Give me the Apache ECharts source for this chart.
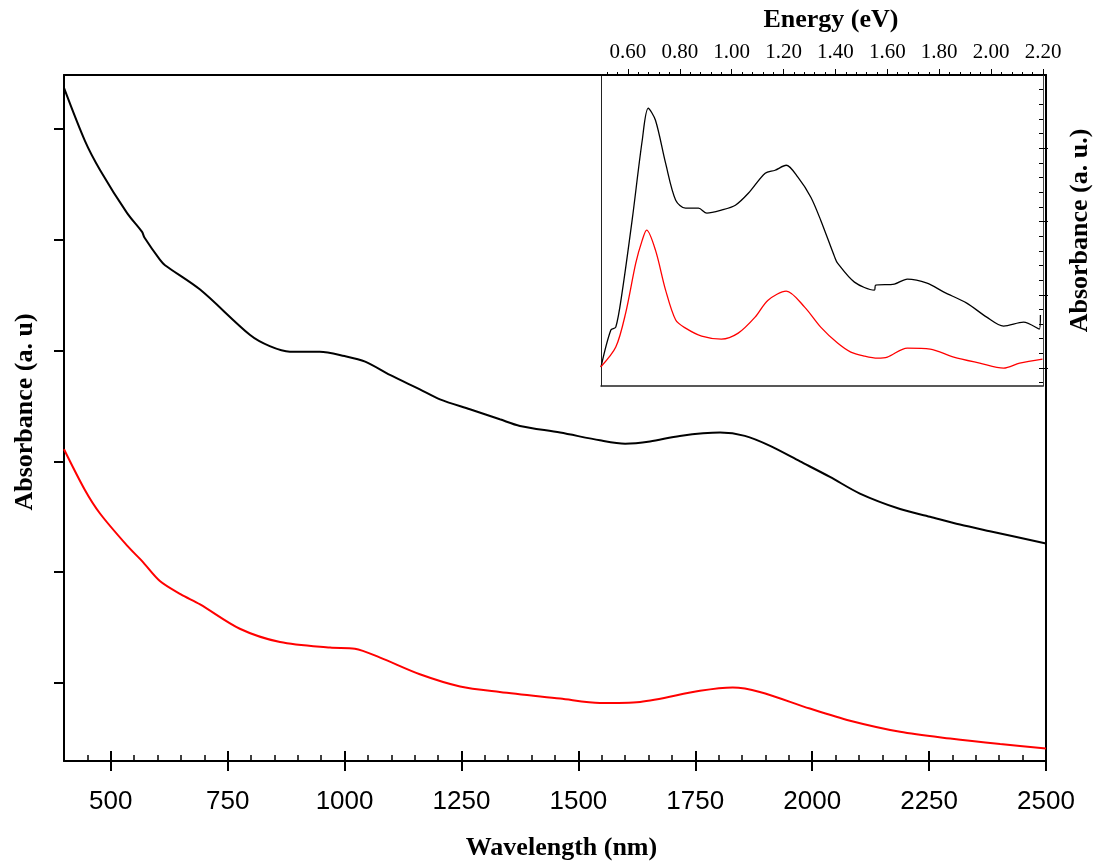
<!DOCTYPE html>
<html>
<head>
<meta charset="utf-8">
<script src="https://cdn.jsdelivr.net/npm/echarts@6/dist/echarts.min.js"></script>
<style>html,body{margin:0;padding:0;background:#fff}#c{width:1094px;height:866px}</style>
</head>
<body>
<div id="c"></div>
<script>
// ---- main spectrum (wavelength nm, absorbance a.u.) ----
const mainBlackWl = [400,445,477,535,567,572,605,616,691,798,840,883,947,1000,1044,1097,1161,1204,1268,1332,1375,1461,1546,1600,1653,1717,1803,1856,1910,1974,2038,2102,2188,2252,2316,2380,2500];
const mainBlackAbs = [0.637,0.589,0.563,0.524,0.507,0.502,0.482,0.477,0.455,0.414,0.404,0.399,0.399,0.395,0.390,0.378,0.365,0.356,0.347,0.338,0.332,0.326,0.319,0.316,0.318,0.323,0.326,0.323,0.314,0.300,0.286,0.271,0.257,0.250,0.243,0.237,0.226];
const mainRedWl = [400,445,477,535,567,605,650,691,776,862,969,1022,1076,1161,1247,1332,1461,1546,1632,1760,1830,1888,1995,2081,2188,2295,2402,2500];
const mainRedAbs = [0.311,0.274,0.253,0.224,0.210,0.192,0.180,0.171,0.149,0.137,0.132,0.131,0.123,0.108,0.097,0.092,0.086,0.082,0.083,0.093,0.096,0.092,0.077,0.066,0.056,0.050,0.045,0.041];
// ---- inset spectrum (energy eV, absorbance a.u.) ----
const insetBlackE = [0.496,0.534,0.553,0.577,0.616,0.655,0.678,0.706,0.745,0.784,0.822,0.872,0.904,0.960,1.014,1.064,1.129,1.167,1.210,1.255,1.305,1.343,1.397,1.408,1.473,1.550,1.555,1.627,1.677,1.753,1.818,1.906,1.983,2.048,2.125,2.186,2.190];
const insetBlackAbs = [1.014,1.518,1.559,2.023,3.018,4.109,4.546,4.382,3.796,3.291,3.182,3.182,3.114,3.155,3.223,3.386,3.659,3.700,3.768,3.605,3.332,3.018,2.514,2.432,2.173,2.064,2.132,2.146,2.214,2.159,2.036,1.886,1.695,1.573,1.627,1.532,1.723];
const insetRedE = [0.495,0.553,0.591,0.630,0.655,0.672,0.706,0.745,0.784,0.822,0.884,0.960,1.025,1.090,1.140,1.210,1.281,1.343,1.408,1.459,1.512,1.562,1.600,1.677,1.765,1.856,1.956,2.048,2.110,2.198];
const insetRedAbs = [1.014,1.286,1.750,2.432,2.746,2.882,2.609,2.064,1.655,1.545,1.436,1.395,1.477,1.695,1.927,2.050,1.832,1.559,1.341,1.218,1.164,1.136,1.150,1.273,1.259,1.150,1.068,1.000,1.068,1.123];
// ---- ticks ----
const wlTicks = [500,750,1000,1250,1500,1750,2000,2250,2500];
const absTicks = [0.1,0.2,0.3,0.4,0.5,0.6];
const eTicks = [0.60,0.80,1.00,1.20,1.40,1.60,1.80,2.00,2.20];
const eMinorTicks = [0.52,0.56,0.64,0.68,0.72,0.76,0.84,0.88,0.92,0.96,1.04,1.08,1.12,1.16,1.24,1.28,1.32,1.36,1.44,1.48,1.52,1.56,1.64,1.68,1.72,1.76,1.84,1.88,1.92,1.96,2.04,2.08,2.12,2.16];
const insetAbsTicks = [1,2,3,4];
const insetAbsMinor = [0.8,1.0,1.2,1.4,1.6,1.8,2.0,2.2,2.4,2.6,2.8,3.0,3.2,3.4,3.6,3.8,4.0,4.2,4.4,4.6,4.8,5.0];

const zip = (a,b) => a.map((v,i)=>[v,b[i]]);
const serifBold = {fontFamily:'Liberation Serif', fontWeight:'bold', fontSize:26, color:'#000'};
const K = '#000';
const off = {show:false};
const WL = {min:400,max:2500};
const AB = {min:0.0297,max:0.6486};
const EN = {min:0.496,max:2.2};
const IA = {min:0.755,max:5.0};

const chart = echarts.init(document.getElementById('c'), null, {renderer:'canvas'});
chart.setOption({
  animation:false,
  backgroundColor:'#fff',
  grid:[
    {left:64, top:75, width:982, height:687, z:0},
    {left:601, top:75, width:445, height:311, show:true, backgroundColor:'#fff', borderWidth:0, z:5}
  ],
  xAxis:[
    Object.assign({type:'value', gridIndex:0, position:'bottom',
      axisLine:{lineStyle:{color:K,width:2}},
      axisTick:{show:true, inside:false, length:10, customValues:wlTicks, lineStyle:{color:K,width:2}},
      axisLabel:{show:true, customValues:wlTicks, margin:28, fontSize:26, fontFamily:'Liberation Sans', color:K,
        formatter:v=>String(v)},
      splitLine:off,
      name:'Wavelength (nm)', nameLocation:'middle', nameGap:74,
      nameTextStyle:Object.assign({padding:[0,0,0,13]}, serifBold)}, WL),
    Object.assign({type:'value', gridIndex:0, position:'bottom', interval:50,
      axisLine:off, axisTick:{show:true, inside:true, length:6, lineStyle:{color:K,width:1.5}},
      axisLabel:off, splitLine:off}, WL),
    Object.assign({type:'value', gridIndex:0, position:'bottom',
      axisLine:off, axisTick:{show:true, inside:true, length:10, customValues:wlTicks, lineStyle:{color:K,width:2}},
      axisLabel:off, splitLine:off}, WL),
    Object.assign({type:'value', gridIndex:0, position:'top',
      axisLine:{lineStyle:{color:K,width:2}}, axisTick:off, axisLabel:off, splitLine:off}, WL),
    Object.assign({type:'value', gridIndex:1, position:'top', z:6,
      axisLine:{lineStyle:{color:K,width:1}},
      axisTick:{show:true, inside:false, length:6, customValues:eTicks, lineStyle:{color:K,width:1}},
      axisLabel:{show:true, customValues:eTicks, margin:12, fontSize:21, fontFamily:'Liberation Serif', color:K,
        formatter:v=>v.toFixed(2)},
      splitLine:off,
      name:'Energy (eV)', nameLocation:'middle', nameGap:42,
      nameTextStyle:Object.assign({padding:[0,0,0,18]}, serifBold)}, EN),
    Object.assign({type:'value', gridIndex:1, position:'top', z:6,
      axisLine:off, axisTick:{show:true, inside:false, length:3, customValues:eMinorTicks, lineStyle:{color:K,width:1}},
      axisLabel:off, splitLine:off}, EN),
    Object.assign({type:'value', gridIndex:1, position:'bottom', z:6,
      axisLine:{lineStyle:{color:'#222',width:1.5}}, axisTick:off, axisLabel:off, splitLine:off}, EN)
  ],
  yAxis:[
    Object.assign({type:'value', gridIndex:0, position:'left',
      axisLine:{lineStyle:{color:K,width:2}},
      axisTick:{show:true, inside:false, length:10, customValues:absTicks, lineStyle:{color:K,width:2}},
      axisLabel:off, splitLine:off,
      name:'Absorbance (a. u)', nameLocation:'middle', nameGap:26, nameRotate:90,
      nameTextStyle:Object.assign({padding:[0,0,0,12]}, serifBold)}, AB),
    Object.assign({type:'value', gridIndex:0, position:'right',
      axisLine:{lineStyle:{color:K,width:2}}, axisTick:off, axisLabel:off, splitLine:off}, AB),
    Object.assign({type:'value', gridIndex:1, position:'right', z:6,
      axisLine:{lineStyle:{color:'#444',width:1}},
      axisTick:{show:true, inside:true, length:4, customValues:insetAbsMinor, lineStyle:{color:K,width:1}},
      axisLabel:off, splitLine:off}, IA),
    Object.assign({type:'value', gridIndex:1, position:'right', z:6,
      axisLine:off,
      axisTick:{show:true, inside:false, length:5, customValues:insetAbsTicks, lineStyle:{color:K,width:1}},
      axisLabel:off, splitLine:off,
      name:'Absorbance (a. u.)', nameLocation:'middle', nameGap:24, nameRotate:90,
      nameTextStyle:serifBold}, IA),
    Object.assign({type:'value', gridIndex:1, position:'left', z:6,
      axisLine:{lineStyle:{color:'#222',width:1}}, axisTick:off, axisLabel:off, splitLine:off}, IA)
  ],
  series:[
    {type:'line', xAxisIndex:0, yAxisIndex:0, data:zip(mainBlackWl,mainBlackAbs), showSymbol:false, smooth:0.3,
      lineStyle:{color:'#000', width:2}, z:2},
    {type:'line', xAxisIndex:0, yAxisIndex:0, data:zip(mainRedWl,mainRedAbs), showSymbol:false, smooth:0.3,
      lineStyle:{color:'#ff0000', width:2}, z:2},
    {type:'line', xAxisIndex:4, yAxisIndex:2, data:zip(insetBlackE,insetBlackAbs), showSymbol:false, smooth:0.3,
      lineStyle:{color:'#000', width:1.3}, z:7},
    {type:'line', xAxisIndex:4, yAxisIndex:2, data:zip(insetRedE,insetRedAbs), showSymbol:false, smooth:0.3,
      lineStyle:{color:'#ff0000', width:1.3}, z:7}
  ]
});
</script>
</body>
</html>
